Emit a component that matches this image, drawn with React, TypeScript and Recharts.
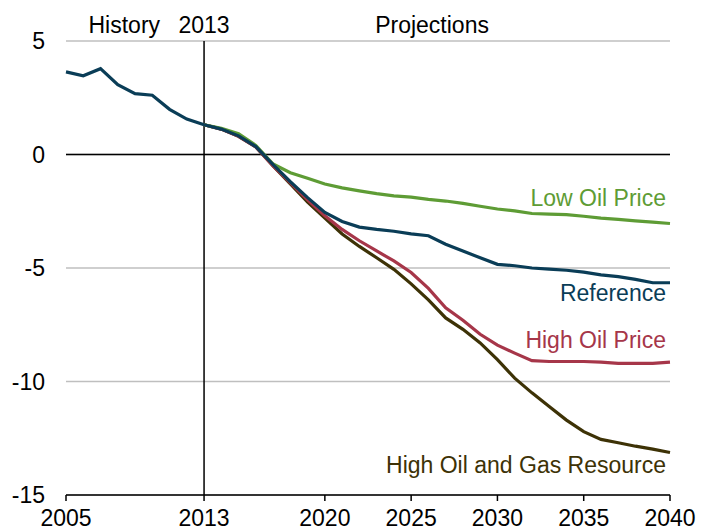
import React from "react"
import { LineChart, Line, XAxis, YAxis, CartesianGrid, ReferenceLine } from "recharts"

const years = [2005, 2006, 2007, 2008, 2009, 2010, 2011, 2012, 2013, 2014, 2015, 2016, 2017, 2018, 2019, 2020, 2021, 2022, 2023, 2024, 2025, 2026, 2027, 2028, 2029, 2030, 2031, 2032, 2033, 2034, 2035, 2036, 2037, 2038, 2039, 2040]

// 2005-2013
const history = [3.64, 3.47, 3.78, 3.08, 2.68, 2.61, 1.99, 1.56, 1.31]

// 2013-2040
const reference = [1.31, 1.12, 0.82, 0.35, -0.45, -1.2, -1.9, -2.55, -2.95, -3.2, -3.3, -3.38, -3.5, -3.58, -3.95, -4.25, -4.55, -4.84, -4.9, -5.0, -5.05, -5.1, -5.18, -5.3, -5.38, -5.5, -5.65, -5.65]
const lowOil = [1.31, 1.15, 0.92, 0.4, -0.42, -0.8, -1.05, -1.3, -1.47, -1.6, -1.72, -1.82, -1.88, -1.98, -2.05, -2.15, -2.28, -2.4, -2.48, -2.6, -2.63, -2.65, -2.72, -2.8, -2.86, -2.92, -2.98, -3.04]
const highOil = [1.31, 1.12, 0.8, 0.33, -0.5, -1.25, -2.0, -2.7, -3.3, -3.8, -4.25, -4.69, -5.2, -5.9, -6.75, -7.3, -7.92, -8.4, -8.75, -9.08, -9.12, -9.12, -9.12, -9.15, -9.2, -9.2, -9.2, -9.15]
const highResource = [1.31, 1.12, 0.8, 0.33, -0.5, -1.3, -2.1, -2.8, -3.5, -4.05, -4.55, -5.06, -5.7, -6.4, -7.2, -7.7, -8.3, -9.04, -9.85, -10.5, -11.1, -11.7, -12.21, -12.55, -12.7, -12.85, -12.98, -13.13]

const xTicks = [2005, 2013, 2020, 2025, 2030, 2035, 2040]
const yTicks = [5, 0, -5, -10, -15]

const projStart = 8
const data = years.map((year, i) => ({
    year,
    history: i < history.length ? history[i] : null,
    reference: i >= projStart ? reference[i - projStart] : null,
    lowOil: i >= projStart ? lowOil[i - projStart] : null,
    highOil: i >= projStart ? highOil[i - projStart] : null,
    highResource: i >= projStart ? highResource[i - projStart] : null,
}))

const font = "'Liberation Sans', Arial, sans-serif"
const last = years.length - 1

function endLabel(text: string, color: string, dy: number) {
    return (p: any) => {
        if (p.index !== last) return <g />
        return (
            <text x={p.x - 4} y={p.y + dy} textAnchor="end" fill={color} fontSize={23} fontFamily={font}>
                {text}
            </text>
        )
    }
}

function TopLabels(p: any) {
    const x = p.viewBox.x
    return (
        <g fontSize={23} fontFamily={font} fill="#000">
            <text x={x - 44} y={33} textAnchor="end">History</text>
            <text x={x} y={33} textAnchor="middle">2013</text>
            <text x={x + 228} y={33} textAnchor="middle">Projections</text>
        </g>
    )
}

export default function App() {
    return (
        <div style={{ position: "absolute", left: 0, top: 0, background: "#fff" }}>
            <LineChart width={712} height={531} data={data} margin={{ top: 41, right: 42, bottom: 0, left: 0 }}>
                <CartesianGrid vertical={false} stroke="#bfbfbf" strokeWidth={1.5} />
                <XAxis dataKey="year" type="number" domain={[2005, 2040]} ticks={xTicks} height={36}
                    axisLine={{ stroke: "#000", strokeWidth: 1.5 }} tickLine={{ stroke: "#000", strokeWidth: 1.5 }}
                    tickSize={6} tickMargin={9} interval={0}
                    tick={{ fill: "#000", fontSize: 23, fontFamily: font }} />
                <YAxis type="number" domain={[-15, 5]} ticks={yTicks} width={66} interval={0}
                    axisLine={false} tickLine={false} tickSize={0} tickMargin={21}
                    tick={{ fill: "#000", fontSize: 23, fontFamily: font }} />
                <ReferenceLine y={0} stroke="#000" strokeWidth={1.5} />
                <ReferenceLine x={2013} stroke="#000" strokeWidth={1.5} label={<TopLabels />} />
                <Line dataKey="highResource" stroke="#3d3206" strokeWidth={3.2} dot={false} isAnimationActive={false}
                    label={endLabel("High Oil and Gas Resource", "#3d3206", 20)} />
                <Line dataKey="highOil" stroke="#a63649" strokeWidth={3.2} dot={false} isAnimationActive={false}
                    label={endLabel("High Oil Price", "#a63649", -14)} />
                <Line dataKey="lowOil" stroke="#5e9c35" strokeWidth={3.2} dot={false} isAnimationActive={false}
                    label={endLabel("Low Oil Price", "#5e9c35", -18)} />
                <Line dataKey="reference" stroke="#0a3d57" strokeWidth={3.2} dot={false} isAnimationActive={false}
                    label={endLabel("Reference", "#0a3d57", 18)} />
                <Line dataKey="history" stroke="#0a3d57" strokeWidth={3.2} dot={false} isAnimationActive={false} />
            </LineChart>
        </div>
    )
}
